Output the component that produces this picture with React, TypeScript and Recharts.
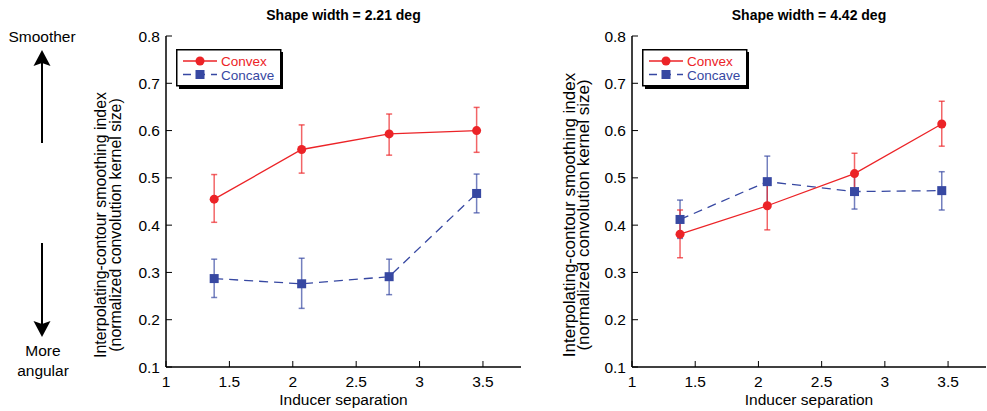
import React from 'react';
import { ComposedChart, Line, XAxis, YAxis, ErrorBar, Legend, Label } from 'recharts';

const separations = [1.38, 2.07, 2.76, 3.45];
const xTicks = [1, 1.5, 2, 2.5, 3, 3.5];
const yTicks = [0.1, 0.2, 0.3, 0.4, 0.5, 0.6, 0.7, 0.8];
const titles = ['Shape width = 2.21 deg', 'Shape width = 4.42 deg'];

const convexNarrow = [0.455, 0.56, 0.593, 0.6];
const convexNarrowLow = [0.406, 0.51, 0.548, 0.554];
const convexNarrowHigh = [0.507, 0.612, 0.635, 0.649];
const concaveNarrow = [0.287, 0.276, 0.291, 0.467];
const concaveNarrowLow = [0.247, 0.224, 0.253, 0.426];
const concaveNarrowHigh = [0.328, 0.33, 0.328, 0.508];

const convexWide = [0.381, 0.441, 0.509, 0.614];
const convexWideLow = [0.331, 0.39, 0.466, 0.567];
const convexWideHigh = [0.432, 0.492, 0.552, 0.662];
const concaveWide = [0.412, 0.492, 0.471, 0.473];
const concaveWideLow = [0.372, 0.445, 0.434, 0.432];
const concaveWideHigh = [0.453, 0.546, 0.51, 0.513];

const RED = '#ec2327';
const BLUE = '#3748a2';
const FONT = '"Liberation Sans", Arial, Helvetica, sans-serif';

function buildRows(cx: number[], cxLo: number[], cxHi: number[], cc: number[], ccLo: number[], ccHi: number[]) {
  return separations.map((s, i) => ({
    sep: s,
    convex: cx[i],
    convexErr: [cx[i] - cxLo[i], cxHi[i] - cx[i]],
    concave: cc[i],
    concaveErr: [cc[i] - ccLo[i], ccHi[i] - cc[i]],
  }));
}

const narrowRows = buildRows(convexNarrow, convexNarrowLow, convexNarrowHigh, concaveNarrow, concaveNarrowLow, concaveNarrowHigh);
const wideRows = buildRows(convexWide, convexWideLow, convexWideHigh, concaveWide, concaveWideLow, concaveWideHigh);

const SquareDot = (props: any) => {
  const { cx, cy, index } = props;
  if (cx == null || cy == null) return <g key={`sq-${index}`} />;
  return <rect key={`sq-${index}`} x={cx - 4.5} y={cy - 4.5} width={9} height={9} fill={BLUE} />;
};

const LegendBox = () => (
  <svg width={110} height={42} style={{ display: 'block', overflow: 'visible' }}>
    <rect x={3} y={3} width={104} height={37} fill="#000" />
    <rect x={0.75} y={0.75} width={104} height={36} fill="#fff" stroke="#000" strokeWidth={1.5} />
    <line x1={7} y1={12} x2={41} y2={12} stroke={RED} strokeWidth={1.3} />
    <circle cx={24} cy={12} r={4.5} fill={RED} />
    <text x={45} y={16.5} fontSize={13.5} fill={RED} fontFamily={FONT}>Convex</text>
    <line x1={7} y1={25.5} x2={41} y2={25.5} stroke={BLUE} strokeWidth={1.3} strokeDasharray="8 6" />
    <rect x={19.5} y={21} width={9} height={9} fill={BLUE} />
    <text x={45} y={30.5} fontSize={13.5} fill={BLUE} fontFamily={FONT}>Concave</text>
  </svg>
);

const axisLineStyle = { stroke: '#000', strokeWidth: 1.5 };
const tickLineStyle = { stroke: '#000', strokeWidth: 1 };

function YLabel(props: any) {
  const { viewBox, d1, d2, cyAbs, fs } = props;
  const cy = cyAbs;
  const x1 = viewBox.x + d1;
  const x2 = viewBox.x + d2;
  return (
    <g>
      <text x={x1} y={cy} dy="0.35em" textAnchor="middle" transform={`rotate(-90, ${x1}, ${cy})`} fontSize={fs} fill="#000" fontFamily={FONT}>
        Interpolating-contour smoothing index
      </text>
      <text x={x2} y={cy} dy="0.35em" textAnchor="middle" transform={`rotate(-90, ${x2}, ${cy})`} fontSize={fs} fill="#000" fontFamily={FONT}>
        (normalized convolution kernel size)
      </text>
    </g>
  );
}

function Panel(p: { rows: any[]; left: number; width: number; ml: number; mr: number; legendLeft: number; d1: number; d2: number; cy: number; fs: number }) {
  return (
    <div style={{ position: 'absolute', left: p.left, top: 0 }}>
      <ComposedChart width={p.width} height={411} data={p.rows} margin={{ top: 36, right: p.mr, bottom: 0, left: p.ml }}>
        <XAxis
          dataKey="sep"
          type="number"
          domain={[1, 3.8]}
          ticks={xTicks}
          allowDataOverflow
          interval={0}
          height={44}
          tickSize={-6}
          tickMargin={15}
          axisLine={axisLineStyle}
          tickLine={tickLineStyle}
          tick={{ fill: '#000', fontSize: 15.5, fontFamily: FONT }}
        >
          <Label value="Inducer separation" position="insideBottom" offset={6} style={{ fontSize: 15.5, fill: '#000', fontFamily: FONT }} />
        </XAxis>
        <XAxis
          xAxisId="top"
          orientation="top"
          dataKey="sep"
          type="number"
          domain={[1, 3.8]}
          ticks={xTicks}
          allowDataOverflow
          interval={0}
          height={0}
          tickSize={-6}
          tick={false}
          axisLine={axisLineStyle}
          tickLine={tickLineStyle}
        />
        <YAxis
          type="number"
          domain={[0.1, 0.8]}
          ticks={yTicks}
          allowDataOverflow
          interval={0}
          width={50}
          tickSize={-6}
          tickMargin={12}
          axisLine={axisLineStyle}
          tickLine={tickLineStyle}
          tick={{ fill: '#000', fontSize: 15.5, fontFamily: FONT }}
          tickFormatter={(v: number) => v.toFixed(1)}
          label={{ content: (lp: any) => <YLabel {...lp} d1={p.d1} d2={p.d2} cyAbs={p.cy} fs={p.fs} /> }}
        />
        <YAxis
          yAxisId="right"
          orientation="right"
          type="number"
          domain={[0.1, 0.8]}
          ticks={yTicks}
          allowDataOverflow
          interval={0}
          width={0}
          tickSize={-6}
          tick={false}
          axisLine={axisLineStyle}
          tickLine={tickLineStyle}
        />
        <Legend
          layout="horizontal"
          verticalAlign="middle"
          align="center"
          wrapperStyle={{ left: p.legendLeft, top: 49, width: 110, height: 42 }}
          content={() => <LegendBox />}
        />
        <Line
          dataKey="concave"
          stroke={BLUE}
          strokeWidth={1.3}
          strokeDasharray="9 6"
          dot={SquareDot}
          activeDot={false}
          isAnimationActive={false}
        >
          <ErrorBar dataKey="concaveErr" width={3} stroke={BLUE} strokeOpacity={0.7} strokeWidth={1.5} isAnimationActive={false} />
        </Line>
        <Line
          dataKey="convex"
          stroke={RED}
          strokeWidth={1.3}
          dot={{ r: 4.5, fill: RED, stroke: 'none' }}
          activeDot={false}
          isAnimationActive={false}
        >
          <ErrorBar dataKey="convexErr" width={3} stroke={RED} strokeOpacity={0.7} strokeWidth={1.5} isAnimationActive={false} />
        </Line>
      </ComposedChart>
    </div>
  );
}

function Overlay() {
  return (
    <svg width={987} height={411} style={{ position: 'absolute', left: 0, top: 0, pointerEvents: 'none' }} fontFamily={FONT}>
      <text x={343.5} y={20} textAnchor="middle" fontSize={14} fontWeight="bold" fill="#000">{titles[0]}</text>
      <text x={809} y={20} textAnchor="middle" fontSize={14} fontWeight="bold" fill="#000">{titles[1]}</text>
      <text x={42} y={42} textAnchor="middle" fontSize={15.5} fill="#000">Smoother</text>
      <line x1={42} y1={143} x2={42} y2={62} stroke="#000" strokeWidth={2} />
      <polygon points="42,50 50.5,66 42,63 33.5,66" fill="#000" />
      <line x1={42} y1={243} x2={42} y2={325} stroke="#000" strokeWidth={2} />
      <polygon points="42,337 50.5,321 42,324 33.5,321" fill="#000" />
      <text x={43} y={356} textAnchor="middle" fontSize={15.5} fill="#000">More</text>
      <text x={43} y={376} textAnchor="middle" fontSize={15.5} fill="#000">angular</text>
    </svg>
  );
}

export default function App() {
  return (
    <div style={{ position: 'absolute', left: 0, top: 0, width: 987, height: 411, background: '#fff', fontFamily: FONT, overflow: 'hidden' }}>
      <Panel rows={narrowRows} left={0} width={540} ml={116} mr={19} legendLeft={176} d1={-16} d2={-1} cy={225} fs={15.9} />
      <Panel rows={wideRows} left={530} width={457} ml={52} mr={1} legendLeft={112} d1={-13} d2={1} cy={215} fs={17} />
      <Overlay />
    </div>
  );
}
